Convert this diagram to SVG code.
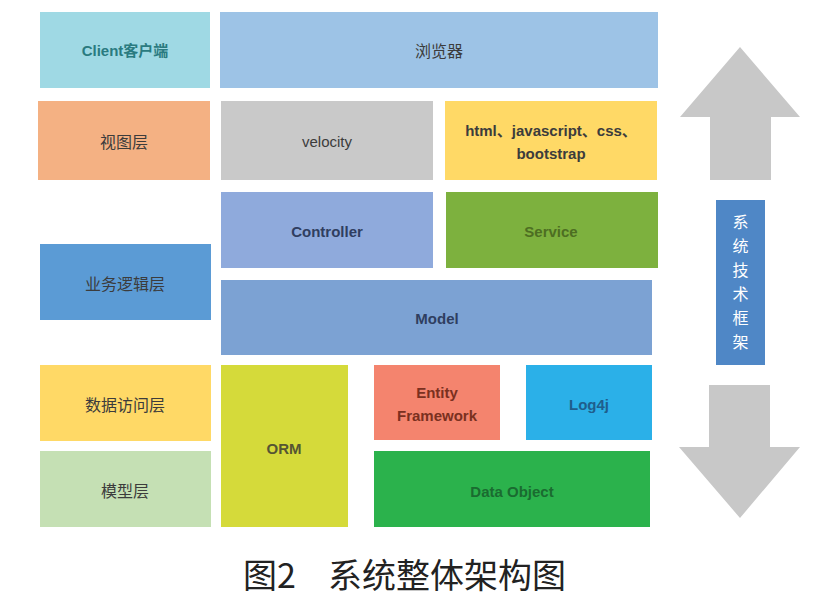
<svg xmlns="http://www.w3.org/2000/svg" width="829" height="608" viewBox="0 0 829 608">
<style>
.lbl{font-family:"Liberation Sans","Noto Sans CJK SC",sans-serif;font-size:15px;font-weight:bold;text-anchor:middle;dominant-baseline:central;fill:#3c3c3c}
.zh{font-family:"Noto Sans CJK SC",sans-serif;font-size:16px;font-weight:normal;text-anchor:middle;dominant-baseline:central;fill:#3c3c3c}
.vt{font-family:"Noto Sans CJK SC",sans-serif;font-size:16px;text-anchor:middle;dominant-baseline:central;fill:#ffffff}
.cap{font-family:"Noto Sans CJK SC",sans-serif;font-size:34px;dominant-baseline:central;fill:#222222}
.arrow{fill:#c8c8c8}
</style>
<rect width="829" height="608" fill="#ffffff"/>
<g id="client"><rect x="40" y="12" width="170" height="76" fill="#9fd9e4"/><text class="lbl" x="125" y="50" style="fill:#2a7b80">Client客户端</text></g>
<g id="browser"><rect x="220" y="12" width="438" height="76" fill="#9dc3e6"/><text class="zh" x="439" y="50">浏览器</text></g>
<g id="view"><rect x="38" y="101" width="172" height="79" fill="#f4b183"/><text class="zh" x="124" y="141">视图层</text></g>
<g id="velocity"><rect x="221" y="101" width="212" height="79" fill="#c9c9c9"/><text class="lbl" x="327" y="141" style="font-weight:normal">velocity</text></g>
<g id="html"><rect x="445" y="101" width="212" height="79" fill="#ffd966"/><text class="lbl" x="551" y="130">html、javascript、css、</text><text class="lbl" x="551" y="153">bootstrap</text></g>
<g id="controller"><rect x="221" y="192" width="212" height="76" fill="#8faadc"/><text class="lbl" x="327" y="231" style="fill:#2f3e60">Controller</text></g>
<g id="service"><rect x="446" y="192" width="212" height="76" fill="#7db13e"/><text class="lbl" x="551" y="231" style="fill:#4d6e22">Service</text></g>
<g id="business"><rect x="40" y="244" width="171" height="76" fill="#5b9bd5"/><text class="zh" x="125" y="283">业务逻辑层</text></g>
<g id="model"><rect x="221" y="280" width="431" height="75" fill="#7ca2d3"/><text class="lbl" x="437" y="318" style="fill:#2f3e60">Model</text></g>
<g id="dataaccess"><rect x="40" y="365" width="171" height="76" fill="#ffd966"/><text class="zh" x="125" y="404">数据访问层</text></g>
<g id="modellayer"><rect x="40" y="451" width="171" height="76" fill="#c5e0b4"/><text class="zh" x="125" y="490">模型层</text></g>
<g id="orm"><rect x="221" y="365" width="127" height="162" fill="#d5da3a"/><text class="lbl" x="284" y="448" style="fill:#555533">ORM</text></g>
<g id="entity"><rect x="374" y="365" width="126" height="75" fill="#f4846e"/><text class="lbl" x="437" y="392" style="fill:#7a3020">Entity</text><text class="lbl" x="437" y="415" style="fill:#7a3020">Framework</text></g>
<g id="log4j"><rect x="526" y="365" width="126" height="75" fill="#2bb0e8"/><text class="lbl" x="589" y="404" style="fill:#1f5e8c">Log4j</text></g>
<g id="dataobject"><rect x="374" y="451" width="276" height="76" fill="#2bb24c"/><text class="lbl" x="512" y="491" style="fill:#1a6b30">Data Object</text></g>
<g id="connectors">
<polygon class="arrow" points="740,47 800,117 771,117 771,180 710,180 710,117 680,117"/>
<polygon class="arrow" points="709,385 770,385 770,447 800,447 740,518 679,447 709,447"/>
</g>
<g id="framework"><rect x="716" y="200" width="49" height="165" fill="#4f87c6"/>
<text class="vt" x="740.5" y="221">系</text>
<text class="vt" x="740.5" y="245">统</text>
<text class="vt" x="740.5" y="269">技</text>
<text class="vt" x="740.5" y="293">术</text>
<text class="vt" x="740.5" y="317">框</text>
<text class="vt" x="740.5" y="341">架</text>
</g>
<g id="caption"><text class="cap" x="243" y="573">图2</text><text class="cap" x="328" y="573">系统整体架构图</text></g>
</svg>
